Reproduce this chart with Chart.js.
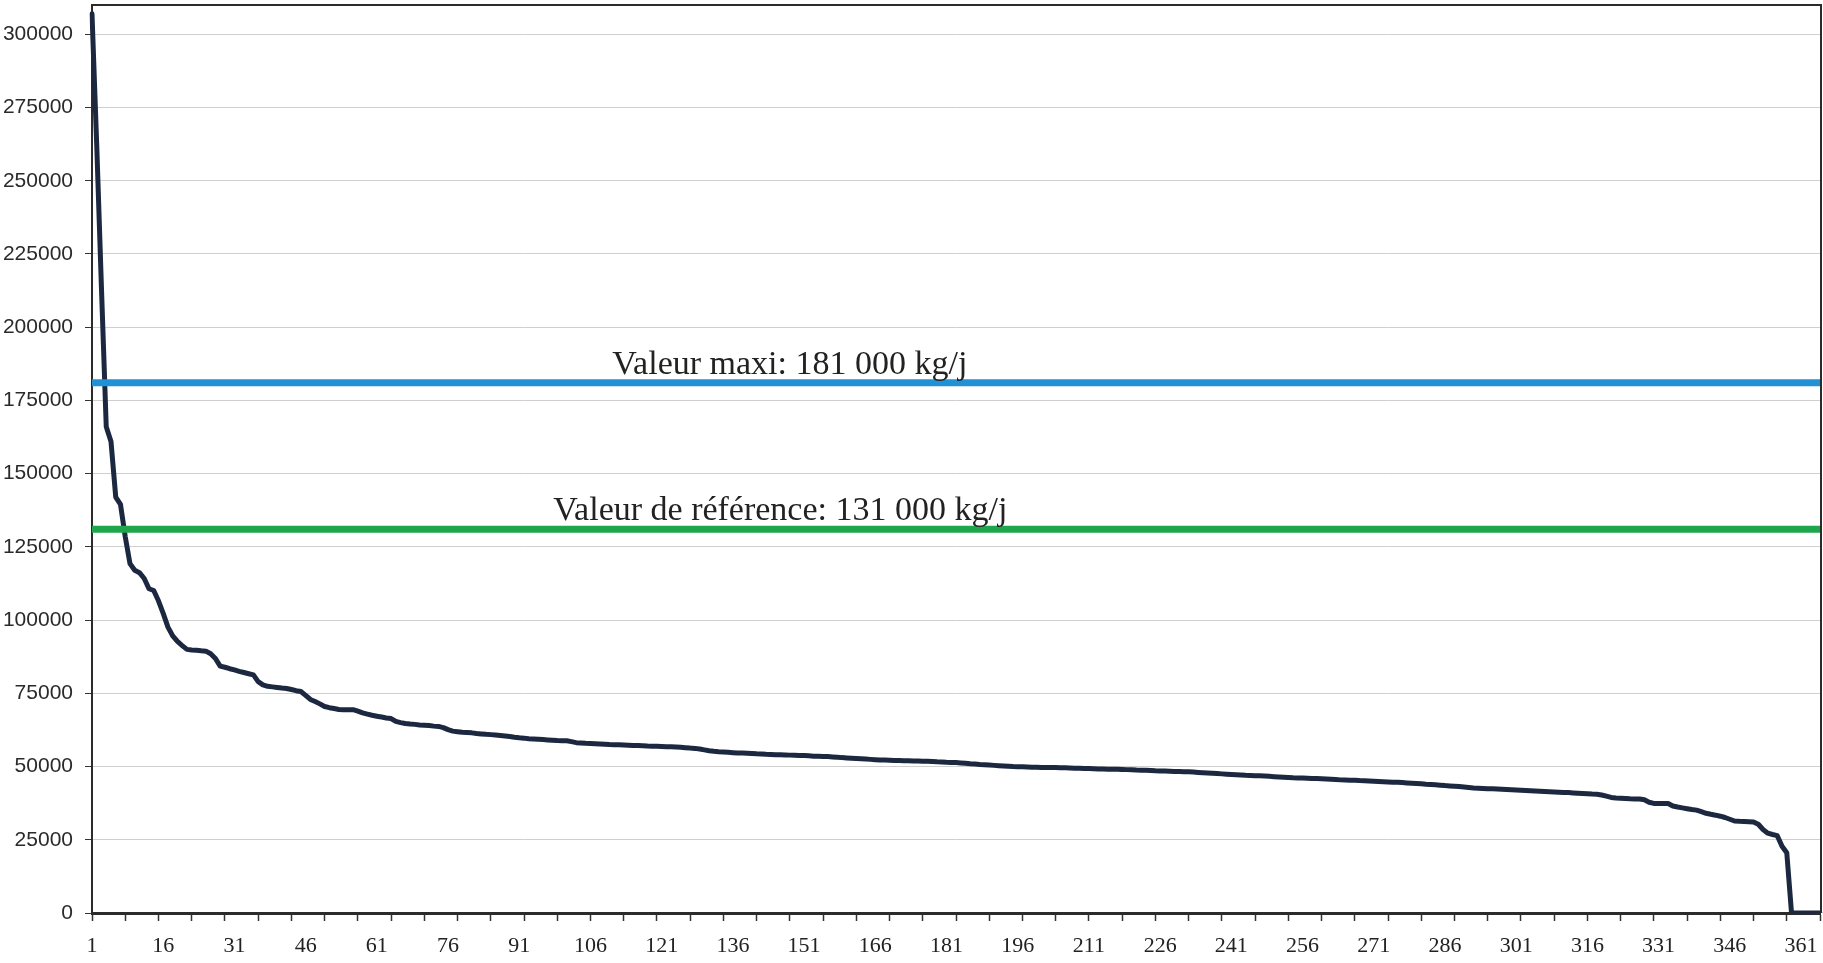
<!DOCTYPE html>
<html lang="fr">
<head>
<meta charset="utf-8">
<title>Courbe des charges classées</title>
<script src="https://cdn.jsdelivr.net/npm/chart.js@4.4.1/dist/chart.umd.min.js"></script>
<style>
  html, body { margin: 0; padding: 0; background: #fff; }
  #wrap { width: 1823px; height: 963px; }
  canvas { display: block; }
</style>
</head>
<body>
<div id="wrap"><canvas id="chart-duree" width="1823" height="963"></canvas></div>
<script>
// ── Data ──────────────────────────────────────────────────────────────────
// Daily load (kg/j), sorted from the highest day to the lowest, days 1..365.

const DAYS = Array.from({ length: 365 }, (_, i) => String(i + 1));

const LOAD_KG = [
  307000, 262000, 213000, 166000, 161000, 142000, 139500, 128500, 119300, 117000,
  116200, 114200, 110700, 110100, 106600, 102300,  97600,  94600,  92700,  91300,
   90000,  89800,  89700,  89500,  89400,  88500,  86900,  84300,  83900,  83400,
   83000,  82500,  82100,  81700,  81300,  79000,  77900,  77400,  77200,  77000,
   76800,  76650,  76300,  75900,  75600,  74300,  72900,  72200,  71400,  70500,
   70100,  69800,  69500,  69400,  69400,  69400,  68900,  68300,  67900,  67500,
   67200,  66900,  66600,  66400,  65400,  65000,  64700,  64500,  64400,  64200,
   64100,  64000,  63800,  63700,  63300,  62600,  62100,  61900,  61700,  61600,
   61500,  61300,  61150,  61000,  60900,  60750,  60600,  60450,  60250,  60000,
   59800,  59700,  59500,  59400,  59300,  59200,  59100,  59000,  58900,  58850,
   58800,  58500,  58150,  58050,  57950,  57900,  57800,  57700,  57600,  57500,
   57450,  57400,  57350,  57300,  57200,  57150,  57100,  57000,  56950,  56900,
   56850,  56800,  56750,  56700,  56600,  56450,  56300,  56200,  56000,  55700,
   55400,  55200,  55050,  54950,  54850,  54750,  54650,  54600,  54550,  54450,
   54350,  54300,  54200,  54150,  54050,  54000,  53950,  53900,  53850,  53800,
   53750,  53650,  53550,  53500,  53450,  53400,  53300,  53200,  53050,  52950,
   52850,  52750,  52650,  52550,  52450,  52350,  52250,  52200,  52150,  52100,
   52050,  52000,  51950,  51900,  51900,  51850,  51800,  51700,  51600,  51550,
   51450,  51400,  51350,  51250,  51100,  50950,  50850,  50700,  50600,  50500,
   50400,  50300,  50200,  50100,  50000,  49950,  49900,  49850,  49800,  49750,
   49700,  49700,  49650,  49650,  49600,  49550,  49500,  49450,  49400,  49350,
   49300,  49250,  49200,  49150,  49100,  49100,  49050,  49000,  48950,  48900,
   48800,  48750,  48700,  48650,  48550,  48500,  48450,  48400,  48350,  48300,
   48250,  48200,  48100,  48000,  47900,  47800,  47700,  47600,  47500,  47400,
   47300,  47200,  47100,  47000,  46950,  46900,  46850,  46750,  46650,  46550,
   46450,  46350,  46250,  46150,  46100,  46050,  46000,  45950,  45900,  45850,
   45750,  45650,  45550,  45450,  45400,  45350,  45300,  45200,  45150,  45080,
   45000,  44920,  44850,  44750,  44650,  44600,  44520,  44400,  44300,  44200,
   44100,  43950,  43850,  43750,  43650,  43500,  43400,  43300,  43150,  43000,
   42850,  42700,  42620,  42540,  42460,  42380,  42300,  42230,  42150,  42060,
   41980,  41900,  41820,  41730,  41650,  41570,  41490,  41410,  41330,  41250,
   41170,  41100,  41000,  40900,  40800,  40700,  40600,  40550,  40300,  39900,
   39450,  39300,  39200,  39100,  39000,  38950,  38900,  38650,  37800,  37410,
   37410,  37410,  37400,  36550,  36170,  35900,  35620,  35340,  35120,  34600,
   34050,  33700,  33400,  33050,  32600,  32000,  31400,  31290,  31230,  31170,
   31100,  30300,  28500,  27250,  26800,  26400,  22800,  20600,      0,      0,
       0,      0,      0,      0,      0
];

const X_TICK_LABELS = ['1', '16', '31', '46', '61', '76', '91', '106', '121', '136', '151', '166',
  '181', '196', '211', '226', '241', '256', '271', '286', '301', '316', '331', '346', '361'];

const Y_TICK_VALUES = [0, 25000, 50000, 75000, 100000, 125000, 150000, 175000,
  200000, 225000, 250000, 275000, 300000];
const Y_MAX = 310000;

const REF_VALUES = [181000, 131000];
const REF_LABELS = ['Valeur maxi: 181 000 kg/j', 'Valeur de référence: 131 000 kg/j'];

// ── Plugins ───────────────────────────────────────────────────────────────

const INK = '#2b2b2b';

const paperBg = {
  id: 'paperBg',
  beforeDraw(chart) {
    const c = chart.ctx;
    c.save();
    c.fillStyle = '#ffffff';
    c.fillRect(0, 0, chart.width, chart.height);
    c.restore();
  }
};

// right edge of the plot frame (top edge comes from the Y_MAX grid line)
const plotFrame = {
  id: 'plotFrame',
  afterDraw(chart) {
    const a = chart.chartArea, c = chart.ctx;
    c.save();
    c.strokeStyle = INK;
    c.lineWidth = 2;
    c.beginPath();
    c.moveTo(a.right + 1, a.top - 1);
    c.lineTo(a.right + 1, a.bottom);
    c.stroke();
    c.restore();
  }
};

// text sitting on each reference line
const refLabels = {
  id: 'refLabels',
  afterDatasetsDraw(chart, args, opts) {
    const x = chart.scales.x, y = chart.scales.y, c = chart.ctx;
    c.save();
    c.font = '34px "Liberation Serif", "Times New Roman", serif';
    c.fillStyle = '#222';
    c.textAlign = 'center';
    c.textBaseline = 'alphabetic';
    REF_LABELS.forEach((txt, i) => {
      const px = x.getPixelForValue(DAYS.indexOf(opts.anchorDays[i]));
      const py = y.getPixelForValue(REF_VALUES[i]) - 9;
      c.fillText(txt, px, py);
    });
    c.restore();
  }
};

// ── Chart ─────────────────────────────────────────────────────────────────

const REF_COLORS = ['#2191d6', '#1fa64c'];

const refDatasets = REF_VALUES.map((v, i) => ({
  label: REF_LABELS[i],
  data: [{ x: DAYS[0], y: v }, { x: DAYS[DAYS.length - 1], y: v }],
  borderColor: REF_COLORS[i],
  borderWidth: 7,
  pointRadius: 0,
  order: 0
}));

new Chart(document.getElementById('chart-duree').getContext('2d'), {
  type: 'line',
  data: {
    labels: DAYS,
    datasets: [
      ...refDatasets,
      {
        label: 'Charge journalière',
        data: LOAD_KG,
        borderColor: '#1c2740',
        borderWidth: 5,
        borderJoinStyle: 'round',
        borderCapStyle: 'round',
        pointRadius: 0,
        tension: 0,
        order: 1
      }
    ]
  },
  options: {
    responsive: false,
    animation: false,
    devicePixelRatio: 1,
    layout: { padding: { top: 5, right: 3, bottom: 0, left: 0 } },
    plugins: {
      legend: { display: false },
      tooltip: { enabled: false },
      refLabels: { anchorDays: ['148', '146'] }
    },
    scales: {
      x: {
        type: 'category',
        offset: false,
        afterFit: s => { s.height = 50; s.paddingLeft = 0; s.paddingRight = 0; },
        afterBuildTicks: s => {
          s.ticks = s.ticks.filter(t => t.value % 7 === 0 || X_TICK_LABELS.includes(DAYS[t.value]));
        },
        border: { display: true, color: INK, width: 3 },
        grid: {
          display: true,
          drawOnChartArea: false,
          tickLength: 8,
          tickWidth: 1.5,
          tickColor: ctx => (ctx.tick && ctx.tick.value % 7 === 0) ? '#333' : 'rgba(0,0,0,0)'
        },
        ticks: {
          autoSkip: false,
          maxRotation: 0,
          padding: 12,
          color: '#222',
          font: { family: '"Liberation Serif", "Times New Roman", serif', size: 22 },
          callback: v => (X_TICK_LABELS.includes(DAYS[v]) ? DAYS[v] : '')
        }
      },
      y: {
        min: 0,
        max: Y_MAX,
        afterFit: s => { s.width = 92; s.paddingTop = 0; s.paddingBottom = 0; },
        afterBuildTicks: s => {
          s.ticks = Y_TICK_VALUES.concat([Y_MAX]).map(v => ({ value: v }));
        },
        border: { display: true, color: INK, width: 2 },
        grid: {
          color: ctx => (ctx.tick && ctx.tick.value === Y_MAX) ? INK : '#cfcfcf',
          lineWidth: ctx => (ctx.tick && ctx.tick.value === Y_MAX) ? 2 : 1,
          tickLength: 7,
          tickColor: ctx => (ctx.tick && ctx.tick.value === Y_MAX) ? 'rgba(0,0,0,0)' : '#333'
        },
        ticks: {
          padding: 12,
          color: '#2a2a2a',
          font: { family: '"Liberation Sans", Arial, sans-serif', size: 21 },
          callback: v => (Y_TICK_VALUES.includes(v) ? String(v) : '')
        }
      }
    }
  },
  plugins: [paperBg, plotFrame, refLabels]
});
</script>
</body>
</html>
